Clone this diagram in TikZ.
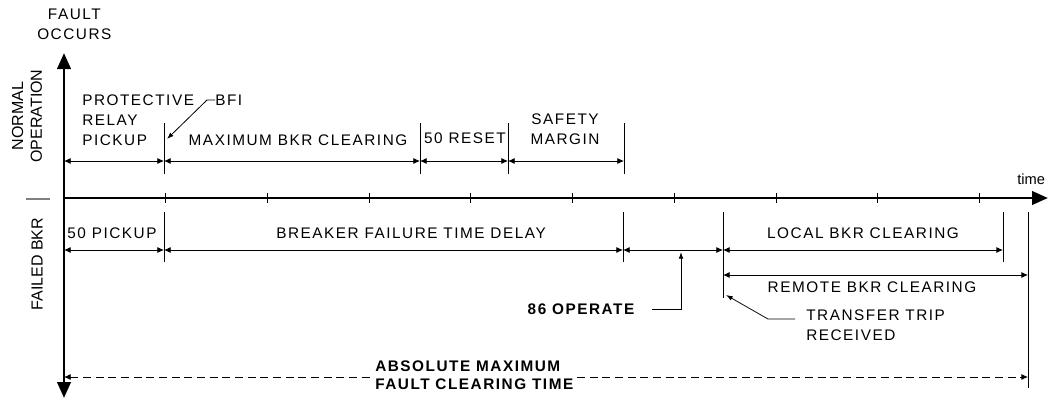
\documentclass[tikz,border=0pt]{standalone}
\usepackage{fontspec}
\setmainfont{Liberation Sans}[LetterSpace=10]
\newfontfamily\rotfont{Liberation Sans}
\usetikzlibrary{arrows.meta}
\begin{document}
\begin{tikzpicture}[x=0.75pt,y=-0.75pt,
  font=\fontsize{11.5}{15}\selectfont,
  lbl/.style={inner sep=0pt, align=center},
  axisline/.style={line width=2.2pt, -{Triangle[length=12pt,width=10pt]}},
  dim/.style={line width=0.6pt, {Latex[length=5pt,width=4.5pt]}-{Latex[length=5pt,width=4.5pt]}},
  bnd/.style={line width=0.6pt},
  lead/.style={line width=0.6pt, -{Latex[length=5pt,width=3.5pt]}},
  tick/.style={line width=0.6pt}]
\useasboundingbox (0,0) rectangle (1055,401);

\coordinate (top) at (64,53);
\coordinate (bot) at (64,398);
\coordinate (org) at (64,198);
\coordinate (tend) at (1048,198);
\draw[axisline, {Triangle[length=12pt,width=10pt]}-{Triangle[length=12pt,width=10pt]}] (bot) -- (top);
\draw[axisline] (org) -- (tend);
\foreach \i in {1,...,9}
  \draw[tick] (64+101.7*\i,193) -- ++(0,10);

\node[lbl, anchor=west] (fault) at (37,24) {FAULT\\OCCURS};
\node[lbl, anchor=south west, font=\rotfont\fontsize{11}{12}\selectfont] (time) at (1017,185) {time};
\node[lbl, rotate=90, font=\rotfont\fontsize{12}{14}\selectfont] (normal) at (27,116) {NORMAL\\OPERATION};
\node[lbl, rotate=90, font=\rotfont\fontsize{12}{14}\selectfont] (failed) at (37,264) {FAILED BKR};
\draw[line width=0.8pt, gray] (26,199) -- (50,199);

\coordinate (a0) at (64,161);
\coordinate (a1) at (164,161);
\coordinate (a2) at (420,161);
\coordinate (a3) at (508,161);
\coordinate (a4) at (624,161);
\foreach \p in {a1,a2,a3,a4}
  \draw[bnd] (\p) ++(0,-38) -- ++(0,51);
\draw[dim] (a0) -- (a1);
\draw[dim] (a1) -- (a2);
\draw[dim] (a2) -- (a3);
\draw[dim] (a3) -- (a4);

\node[lbl, anchor=west, align=left] (prp) at (82,120) {PROTECTIVE\\RELAY\\PICKUP};
\node[lbl, anchor=west] (bfi) at (215,100) {BFI};
\coordinate (bfitip) at (167,139);
\draw[lead] (bfi.west) -- ++(-8,0) -- (bfitip);
\node[lbl] (maxclr) at (298,140) {MAXIMUM BKR CLEARING};
\node[lbl] (reset) at (465,138) {50 RESET};
\node[lbl] (safety) at (565,129) {SAFETY\\MARGIN};

\coordinate (b0) at (64,250);
\coordinate (b1) at (164,250);
\coordinate (b2) at (623,250);
\coordinate (b3) at (723,250);
\coordinate (b4) at (1003,250);
\coordinate (c0) at (723,275);
\coordinate (c1) at (1028,275);
\foreach \p in {b1,b2,b4}
  \draw[bnd] (\p) ++(0,-38) -- ++(0,50);
\draw[bnd] (b3) ++(0,-38) -- ++(0,86);
\draw[bnd] (c1) ++(0,-63) -- ++(0,176);
\draw[dim] (b0) -- (b1);
\draw[dim] (b1) -- (b2);
\draw[dim] (b2) -- (b3);
\draw[dim] (b3) -- (b4);
\draw[dim] (c0) -- (c1);

\node[lbl] (pick50) at (112,233) {50 PICKUP};
\node[lbl] (bfdelay) at (411,233) {BREAKER FAILURE TIME DELAY};
\node[lbl] (local) at (863,233) {LOCAL BKR CLEARING};
\node[lbl] (remote) at (872,287) {REMOTE BKR CLEARING};

\node[lbl, font=\bfseries\fontsize{11.5}{15}\selectfont] (op86) at (581,309) {86 OPERATE};
\coordinate (optip) at (681,252);
\draw[lead] (op86.east) ++(17,0) -| (optip);

\node[lbl, anchor=west, align=left] (tt) at (806,325) {TRANSFER TRIP\\RECEIVED};
\coordinate (tttip) at (726,295);
\draw[lead] (tt.west) ++(-11,-6) -- ++(-27,0) -- (tttip);

\coordinate (d0) at (64,377);
\coordinate (d1) at (1028,377);
\draw[dim, dash pattern=on 6pt off 3.5pt] (d0) -- (d1);
\node[lbl, anchor=west, align=left, fill=white, inner xsep=3pt, font=\bfseries\fontsize{11.5}{13.5}\selectfont] (absmax) at (371,375) {ABSOLUTE MAXIMUM\\FAULT CLEARING TIME};
\end{tikzpicture}
\end{document}
